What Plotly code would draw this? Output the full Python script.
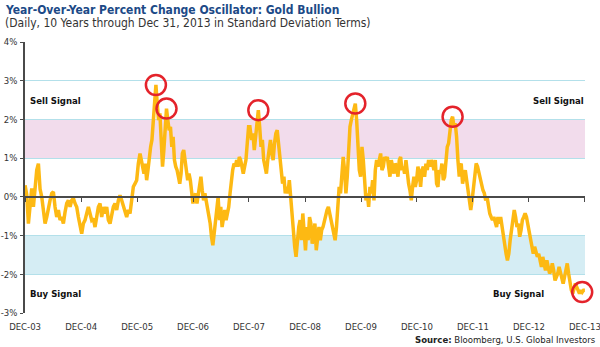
import pandas as pd
import plotly.graph_objects as go

# ---------------- data ----------------
# Oscillator values (standard deviations, shown as %), in five consecutive stretches
seg1_values = [0.30, 0.05, -0.69, -0.09, 0.22, -0.26, 0.34, 0.69, 0.86, 0.20, 0.00, -0.43, -0.69,
               -0.52, -0.26, -0.09, 0.09, 0.13, -0.26, -0.52, -0.34, -0.60, -0.52, -0.69, -0.39,
               -0.17, -0.09, -0.26, -0.09, -0.04, -0.17, -0.26, -0.52, -0.78, -0.95, -0.69, -0.60,
               -0.43, -0.26, -0.43, -0.60, -0.56, -0.78, -0.52, -0.26, -0.17, -0.52, -0.26, -0.43,
               -0.26, -0.60, -0.69, -0.43, -0.26, -0.17, -0.34, -0.09, 0.04, -0.09, -0.26, -0.43,
               -0.52, -0.34, -0.43, -0.09, 0.26, 0.34, 0.43, 0.86]
seg2_values = [1.12, 0.95, 0.69, 0.60, 0.86, 0.43, 0.69, 1.12, 1.29, 1.47, 1.90, 2.41, 2.89, 2.41,
               1.98, 2.16, 1.38, 0.78, 1.21, 1.81, 2.28, 1.98, 1.72, 1.81, 1.29, 1.55, 0.95, 0.78,
               0.69, 0.52, 0.34, 0.60, 1.12, 1.21, 0.86, 0.69, 0.43, 0.60, 0.43, 0.17, -0.17, 0.00,
               0.09, -0.17, 0.09, 0.34, 0.52, 0.17, -0.09, 0.09, -0.09, -0.26, -0.43, -0.69, -1.03,
               -1.25, -0.95, -0.60, -0.34, 0.00, -0.60, -0.26, -0.78, -0.52, -0.34, -0.60, -0.43,
               -0.26, 0.09, 0.43, 0.69, 0.86, 0.78, 0.95, 0.78, 1.03, 0.95, 0.78, 0.60, 0.78, 0.95,
               1.38, 1.81, 1.81]
seg3_values = [1.47, 1.64, 1.21, 1.55, 1.81, 2.24, 1.81, 1.29, 1.47, 0.95, 0.78, 0.60, 0.95, 1.29,
               1.47, 1.12, 0.95, 1.38, 1.64, 1.72, 1.38, 0.95, 0.60, 0.34, 0.52, 0.09, 0.26, 0.09,
               0.43, 0.00, -0.52, -1.03, -1.29, -1.55, -1.12, -0.78, -0.60, -1.12, -0.43, -0.86,
               -1.38, -0.78, -1.12, -0.52, -0.69, -1.21, -0.95, -0.69, -1.38, -1.03, -0.78, -1.12,
               -0.86, -0.78, -0.60, -0.52, -0.34, -0.26, -0.43, -0.69, -0.78, -0.95, -1.12, -0.78,
               -0.09, 0.26, 0.09, 0.69, 1.03, 0.69, 0.09, 0.52, 1.29]
seg4_values = [1.81, 1.98, 2.16, 2.33, 2.41, 1.98, 1.29, 0.69, 0.52, 1.29, 0.95, 0.26, -0.09, 0.09,
               -0.26, 0.26, 0.09, 0.43, -0.09, 0.69, 0.95, 0.78, 1.03, 1.12, 0.69, 0.78, 1.03, 0.95,
               1.03, 0.78, 0.52, 0.95, 0.69, 0.60, 0.86, 0.78, 0.52, 0.95, 1.03, 0.69, 0.78, 0.60,
               0.95, 0.60, 0.34, 0.17, -0.09, 0.26, 0.52, 0.26, 0.43, 0.78, 0.60, 0.26, 0.69, 0.78,
               0.52, 0.86, 0.69, 0.95, 0.78, 0.95, 0.86, 0.69, 0.95, 0.34, 0.26, 0.69, 0.60, 0.86,
               0.43, 0.52, 0.95, 1.29, 1.38, 1.81, 1.98, 2.07, 1.81, 1.90, 1.55, 0.95, 0.52]
seg5_values = [0.78, 0.86, 0.34, 0.52, 0.69, 0.43, 0.17, -0.09, -0.34, -0.09, 0.26, 0.60, 0.86,
               0.78, 0.60, 0.52, 0.26, 0.17, 0.09, -0.09, 0.00, -0.26, -0.43, -0.52, -0.60, -0.52,
               -0.69, -0.78, -0.52, -0.69, -0.52, -0.78, -0.95, -1.21, -1.47, -1.64, -1.47, -1.12,
               -0.86, -0.60, -0.34, -0.52, -0.78, -0.69, -1.03, -0.86, -0.60, -0.52, -0.43, -0.52,
               -0.69, -0.86, -1.12, -1.29, -1.47, -1.29, -1.47, -1.55, -1.47, -1.64, -1.81, -1.55,
               -1.72, -1.90, -1.64, -1.81, -1.98, -1.90, -1.72, -1.90, -2.16, -2.07, -1.98, -1.81,
               -1.98, -2.16, -2.24, -2.07, -1.90, -1.72, -1.98, -2.24, -2.41, -2.50, -2.33, -2.24,
               -2.33, -2.41, -2.50, -2.41, -2.46, -2.41, -2.41]
segment_spans = [("2003-12-31", "2006-01-08"), ("2006-01-19", "2008-01-06"),
                 ("2008-01-17", "2009-10-11"), ("2009-10-20", "2011-10-03"),
                 ("2011-10-07", "2013-12-31")]

# dates of the circled signals
sell_signal_dates = ["2006-05-01", "2006-07-13", "2008-03-05", "2009-11-28", "2011-08-24"]
buy_signal_dates = ["2013-12-31"]

x_tick_dates = ["2003-12-31", "2004-12-31", "2005-12-31", "2006-12-31", "2007-12-31", "2008-12-31",
                "2009-12-31", "2010-12-31", "2011-12-31", "2012-12-31", "2013-12-31"]
x_tick_labels = ["DEC-03", "DEC-04", "DEC-05", "DEC-06", "DEC-07", "DEC-08",
                 "DEC-09", "DEC-10", "DEC-11", "DEC-12", "DEC-13"]
y_tick_values = [-3, -2, -1, 0, 1, 2, 3, 4]
y_tick_labels = ["-3%", "-2%", "-1%", "0%", "1%", "2%", "3%", "4%"]
sell_band = (1, 2)
buy_band = (-2, -1)

# ---------------- build series ----------------
parts = []
for vals, (s, e) in zip([seg1_values, seg2_values, seg3_values, seg4_values, seg5_values], segment_spans):
    parts.append(pd.Series(vals, index=pd.date_range(s, e, periods=len(vals))))
series = pd.concat(parts)


def near_extreme(d, kind):
    d = pd.Timestamp(d)
    win = series[(series.index >= d - pd.Timedelta(days=30)) & (series.index <= d + pd.Timedelta(days=30))]
    idx = win.idxmax() if kind == "max" else win.idxmin()
    return idx, win[idx]


circ_x, circ_y = [], []
for d in sell_signal_dates:
    i, v = near_extreme(d, "max")
    circ_x.append(i); circ_y.append(v)
for d in buy_signal_dates:
    i, v = near_extreme(d, "min")
    circ_x.append(i); circ_y.append(v)

# ---------------- layout geometry ----------------
W, H = 600, 347
L, R, T, B = 25, 15, 42, 34
PW, PH = W - L - R, H - T - B


def px_x(x):
    return (x - L) / PW


def px_y(y):
    return (H - B - y) / PH


NARROW = "DejaVu Sans Condensed, Liberation Sans Narrow, Arial Narrow, sans-serif"
DARK = "#4a4a4a"
GOLD = "#FDB913"
RED = "#E4232B"

fig = go.Figure()
fig.add_trace(go.Scatter(x=series.index, y=series.values, mode="lines",
                         line=dict(color=GOLD, width=3.5), hoverinfo="skip", showlegend=False))
fig.add_trace(go.Scatter(x=circ_x, y=circ_y, mode="markers", cliponaxis=False,
                         marker=dict(symbol="circle-open", size=20, color=RED, line=dict(width=2.5)),
                         hoverinfo="skip", showlegend=False))
# invisible trace to carry the zero-line axis
fig.add_trace(go.Scatter(x=[x_tick_dates[0]], y=[0], xaxis="x2", mode="markers",
                         marker=dict(opacity=0), hoverinfo="skip", showlegend=False))

fig.add_shape(type="rect", xref="paper", yref="y", x0=0, x1=1, y0=sell_band[0], y1=sell_band[1],
              fillcolor="#F2DCEC", line_width=0, layer="below")
fig.add_shape(type="rect", xref="paper", yref="y", x0=0, x1=1, y0=buy_band[0], y1=buy_band[1],
              fillcolor="#D5EDF4", line_width=0, layer="below")

x_range = [pd.Timestamp(x_tick_dates[0]) - pd.Timedelta(hours=12),
           pd.Timestamp(x_tick_dates[-1]) + pd.Timedelta(hours=12)]
fig.update_layout(
    width=W, height=H, margin=dict(l=L, r=R, t=T, b=B, autoexpand=False),
    paper_bgcolor="white", plot_bgcolor="white",
    font=dict(family=NARROW, color="#333333", size=10),
    xaxis=dict(type="date", range=x_range, tickvals=x_tick_dates, ticktext=x_tick_labels,
               showgrid=False, showline=False, zeroline=False, ticks="", ticklabelstandoff=6,
               ticklabeloverflow="allow", automargin=False,
               tickfont=dict(family=NARROW, size=9.5, color="#333333")),
    xaxis2=dict(type="date", overlaying="x", matches="x", anchor="free", position=3 / 7, side="bottom",
                range=x_range, tickvals=x_tick_dates, showticklabels=False, showgrid=False,
                showline=True, linecolor=DARK, linewidth=1.5, ticks="outside", ticklen=4,
                tickcolor=DARK, tickwidth=1, zeroline=False, automargin=False),
    yaxis=dict(range=[-3, 4], tickvals=y_tick_values, ticktext=y_tick_labels, showgrid=True,
               gridcolor="#B3E0EA", gridwidth=1, zeroline=False, showline=True, linecolor=DARK,
               linewidth=1.5, ticks="outside", ticklen=3, tickcolor=DARK, ticklabelstandoff=1,
               ticklabeloverflow="allow", automargin=False,
               tickfont=dict(family=NARROW, size=9.5, color="#333333")),
    showlegend=False,
)

ann = [
    dict(text="<b>Year-Over-Year Percent Change Oscillator: Gold Bullion</b>", x=px_x(3), y=px_y(10),
         font=dict(size=12, color="#1C4A87")),
    dict(text="(Daily, 10 Years through Dec 31, 2013 in Standard Deviation Terms)", x=px_x(3), y=px_y(23),
         font=dict(size=12, color="#333333")),
    dict(text="<b>Source:</b> Bloomberg, U.S. Global Investors", x=px_x(598), y=px_y(339),
         xanchor="right", font=dict(size=9.5, color="#222222")),
]
for a in ann:
    a.setdefault("xanchor", "left")
    fig.add_annotation(xref="paper", yref="paper", yanchor="middle", showarrow=False, **a)

labels = [("<b>Sell Signal</b>", px_x(28), 2.5, "left"), ("<b>Sell Signal</b>", px_x(586), 2.5, "right"),
          ("<b>Buy Signal</b>", px_x(28), -2.5, "left"), ("<b>Buy Signal</b>", px_x(546), -2.5, "right")]
for t, x, y, xa in labels:
    fig.add_annotation(text=t, xref="paper", yref="y", x=x, y=y, xanchor=xa, yanchor="middle",
                       showarrow=False, font=dict(size=9.5, color="#111111", family=NARROW))

fig.write_html("out.html")
